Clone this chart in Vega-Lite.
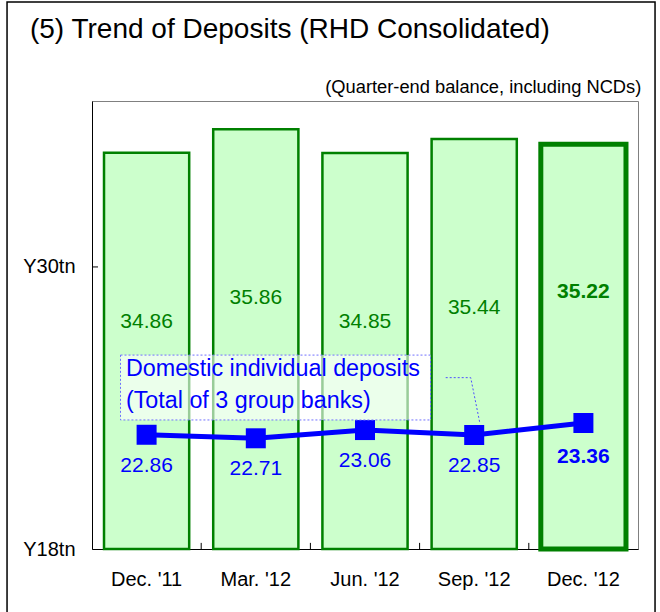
{
  "$schema": "https://vega.github.io/schema/vega-lite/v6.json",
  "width": 546,
  "height": 448,
  "autosize": {"type": "none"},
  "padding": {"left": 92, "top": 101, "right": 22, "bottom": 63},
  "background": "white",
  "config": {
    "font": "Liberation Sans",
    "view": {"stroke": "#808080", "strokeWidth": 1},
    "axisY": {"grid": false, "labelFontSize": 20, "labelColor": "black", "labelFont": "Liberation Sans", "labelPadding": 17,
      "ticks": false, "domainColor": "black"},
    "axisX": {"labelAngle": 0, "labelFontSize": 20, "labelColor": "black", "labelFont": "Liberation Sans",
      "ticks": false, "domainColor": "black", "labelPadding": 20}
  },
  "data": {"values": [
    {"q": "Dec. '11", "total": 34.86, "indiv": 22.86, "kind": "past"},
    {"q": "Mar. '12", "total": 35.86, "indiv": 22.71, "kind": "past"},
    {"q": "Jun. '12", "total": 34.85, "indiv": 23.06, "kind": "past"},
    {"q": "Sep. '12", "total": 35.44, "indiv": 22.85, "kind": "past"},
    {"q": "Dec. '12", "total": 35.22, "indiv": 23.36, "kind": "latest"}
  ]},
  "layer": [
    {
      "encoding": {
        "x": {"field": "q", "type": "nominal", "sort": null, "title": null,
          "scale": {"paddingInner": 0.22, "paddingOuter": 0.11}}
      },
      "layer": [
        {
          "mark": {"type": "bar", "fill": "#CCFFCC", "stroke": "#008000"},
          "encoding": {
            "y": {"field": "total", "type": "quantitative", "title": null, "scale": {"domain": [18, 37.06], "nice": false, "zero": false},
              "axis": {"values": [18, 30], "labelExpr": "'Y' + datum.value + 'tn'", "title": null}},
            "y2": {"datum": 18},
            "strokeWidth": {"field": "kind", "type": "nominal", "scale": {"domain": ["past", "latest"], "range": [2.5, 5]}, "legend": null}
          }
        },
        {
          "transform": [{"filter": "datum.kind === 'past'"}],
          "mark": {"type": "text", "color": "#008000", "fontSize": 21, "baseline": "middle", "dy": 169},
          "encoding": {
            "y": {"field": "total", "type": "quantitative", "title": null, "scale": {"domain": [18, 37.06], "nice": false, "zero": false},
              "axis": {"values": [18, 30], "labelExpr": "'Y' + datum.value + 'tn'", "title": null}},
            "text": {"field": "total", "type": "quantitative", "format": ".2f"}
          }
        },
        {
          "transform": [{"filter": "datum.kind === 'latest'"}],
          "mark": {"type": "text", "color": "#008000", "fontSize": 21, "fontWeight": "bold", "baseline": "middle", "dy": 148},
          "encoding": {
            "y": {"field": "total", "type": "quantitative", "title": null, "scale": {"domain": [18, 37.06], "nice": false, "zero": false},
              "axis": {"values": [18, 30], "labelExpr": "'Y' + datum.value + 'tn'", "title": null}},
            "text": {"field": "total", "type": "quantitative", "format": ".2f"}
          }
        },
        {
          "mark": {"type": "line", "color": "#0000FF", "strokeWidth": 5},
          "encoding": {
            "y": {"field": "indiv", "type": "quantitative", "title": null, "scale": {"domain": [18, 37.06], "nice": false, "zero": false},
              "axis": {"values": [18, 30], "labelExpr": "'Y' + datum.value + 'tn'", "title": null}}
          }
        },
        {
          "mark": {"type": "point", "shape": "square", "filled": true, "size": 400, "color": "#0000FF", "opacity": 1},
          "encoding": {
            "y": {"field": "indiv", "type": "quantitative", "title": null, "scale": {"domain": [18, 37.06], "nice": false, "zero": false},
              "axis": {"values": [18, 30], "labelExpr": "'Y' + datum.value + 'tn'", "title": null}}
          }
        },
        {
          "transform": [{"filter": "datum.kind === 'past'"}],
          "mark": {"type": "text", "color": "#0000FF", "fontSize": 21, "baseline": "middle", "dy": 31},
          "encoding": {
            "y": {"field": "indiv", "type": "quantitative", "title": null, "scale": {"domain": [18, 37.06], "nice": false, "zero": false},
              "axis": {"values": [18, 30], "labelExpr": "'Y' + datum.value + 'tn'", "title": null}},
            "text": {"field": "indiv", "type": "quantitative", "format": ".2f"}
          }
        },
        {
          "transform": [{"filter": "datum.kind === 'latest'"}],
          "mark": {"type": "text", "color": "#0000FF", "fontSize": 21, "fontWeight": "bold", "baseline": "middle", "dy": 34},
          "encoding": {
            "y": {"field": "indiv", "type": "quantitative", "title": null, "scale": {"domain": [18, 37.06], "nice": false, "zero": false},
              "axis": {"values": [18, 30], "labelExpr": "'Y' + datum.value + 'tn'", "title": null}},
            "text": {"field": "indiv", "type": "quantitative", "format": ".2f"}
          }
        }
      ]
    },
    {
      "layer": [
        {
          "data": {"values": [{}]},
          "mark": {"type": "rect", "filled": false, "stroke": "black", "strokeWidth": 1.5},
          "encoding": {
            "x": {"datum": -0.778, "type": "quantitative", "scale": {"domain": [0, 5], "nice": false, "zero": false}, "axis": null},
            "x2": {"datum": 5.156},
            "y": {"datum": 41.27, "type": "quantitative", "title": null, "scale": {"domain": [18, 37.06], "nice": false, "zero": false},
              "axis": {"values": [18, 30], "labelExpr": "'Y' + datum.value + 'tn'", "title": null}},
            "y2": {"datum": 14.77}
          }
        },
        {
          "data": {"values": [{"u": 1}, {"u": 2}, {"u": 3}, {"u": 4}]},
          "mark": {"type": "rule", "color": "black", "strokeWidth": 1},
          "encoding": {
            "x": {"field": "u", "type": "quantitative", "scale": {"domain": [0, 5], "nice": false, "zero": false}, "axis": null},
            "y": {"datum": 18, "type": "quantitative", "title": null, "scale": {"domain": [18, 37.06], "nice": false, "zero": false},
              "axis": {"values": [18, 30], "labelExpr": "'Y' + datum.value + 'tn'", "title": null}},
            "y2": {"datum": 18.26}
          }
        },
        {
          "data": {"values": [{}]},
          "mark": {"type": "rule", "color": "black", "strokeWidth": 1},
          "encoding": {
            "x": {"datum": 0, "type": "quantitative", "scale": {"domain": [0, 5], "nice": false, "zero": false}, "axis": null},
            "x2": {"datum": 0.055},
            "y": {"datum": 30, "type": "quantitative", "title": null, "scale": {"domain": [18, 37.06], "nice": false, "zero": false},
              "axis": {"values": [18, 30], "labelExpr": "'Y' + datum.value + 'tn'", "title": null}}
          }
        },
        {
          "data": {"values": [{}]},
          "mark": {"type": "text", "text": "(5) Trend of Deposits (RHD Consolidated)", "align": "left", "baseline": "middle", "fontSize": 28, "color": "black"},
          "encoding": {
            "x": {"datum": -0.568, "type": "quantitative", "scale": {"domain": [0, 5], "nice": false, "zero": false}, "axis": null},
            "y": {"datum": 40.08, "type": "quantitative", "title": null, "scale": {"domain": [18, 37.06], "nice": false, "zero": false},
              "axis": {"values": [18, 30], "labelExpr": "'Y' + datum.value + 'tn'", "title": null}}
          }
        },
        {
          "data": {"values": [{}]},
          "mark": {"type": "text", "text": "(Quarter-end balance, including NCDs)", "align": "right", "baseline": "middle", "fontSize": 18.3, "color": "black"},
          "encoding": {
            "x": {"datum": 5.03, "type": "quantitative", "scale": {"domain": [0, 5], "nice": false, "zero": false}, "axis": null},
            "y": {"datum": 37.61, "type": "quantitative", "title": null, "scale": {"domain": [18, 37.06], "nice": false, "zero": false},
              "axis": {"values": [18, 30], "labelExpr": "'Y' + datum.value + 'tn'", "title": null}}
          }
        },
        {
          "data": {"values": [{}]},
          "mark": {"type": "rect", "fill": "white", "fillOpacity": 0.6, "stroke": "#7070ff", "strokeWidth": 1, "strokeDash": [2, 2]},
          "encoding": {
            "x": {"datum": 0.261, "type": "quantitative", "scale": {"domain": [0, 5], "nice": false, "zero": false}, "axis": null},
            "x2": {"datum": 3.1},
            "y": {"datum": 26.25, "type": "quantitative", "title": null, "scale": {"domain": [18, 37.06], "nice": false, "zero": false},
              "axis": {"values": [18, 30], "labelExpr": "'Y' + datum.value + 'tn'", "title": null}},
            "y2": {"datum": 23.49}
          }
        },
        {
          "data": {"values": [{}]},
          "mark": {"type": "text", "text": "Domestic individual deposits\n(Total of 3 group banks)", "lineBreak": "\n", "lineHeight": 32, "align": "left", "baseline": "middle", "fontSize": 23.3, "color": "#0000FF"},
          "encoding": {
            "x": {"datum": 0.311, "type": "quantitative", "scale": {"domain": [0, 5], "nice": false, "zero": false}, "axis": null},
            "y": {"datum": 25.66, "type": "quantitative", "title": null, "scale": {"domain": [18, 37.06], "nice": false, "zero": false},
              "axis": {"values": [18, 30], "labelExpr": "'Y' + datum.value + 'tn'", "title": null}}
          }
        },
        {
          "data": {"values": [{"u": 3.239, "v": 25.29}, {"u": 3.468, "v": 25.29}, {"u": 3.553, "v": 23.33}]},
          "mark": {"type": "line", "color": "#5050ff", "strokeWidth": 1, "strokeDash": [2, 2]},
          "encoding": {
            "x": {"field": "u", "type": "quantitative", "scale": {"domain": [0, 5], "nice": false, "zero": false}, "axis": null},
            "y": {"field": "v", "type": "quantitative", "title": null, "scale": {"domain": [18, 37.06], "nice": false, "zero": false},
              "axis": {"values": [18, 30], "labelExpr": "'Y' + datum.value + 'tn'", "title": null}}
          }
        }
      ]
    }
  ],
  "resolve": {"scale": {"x": "independent"}}
}
